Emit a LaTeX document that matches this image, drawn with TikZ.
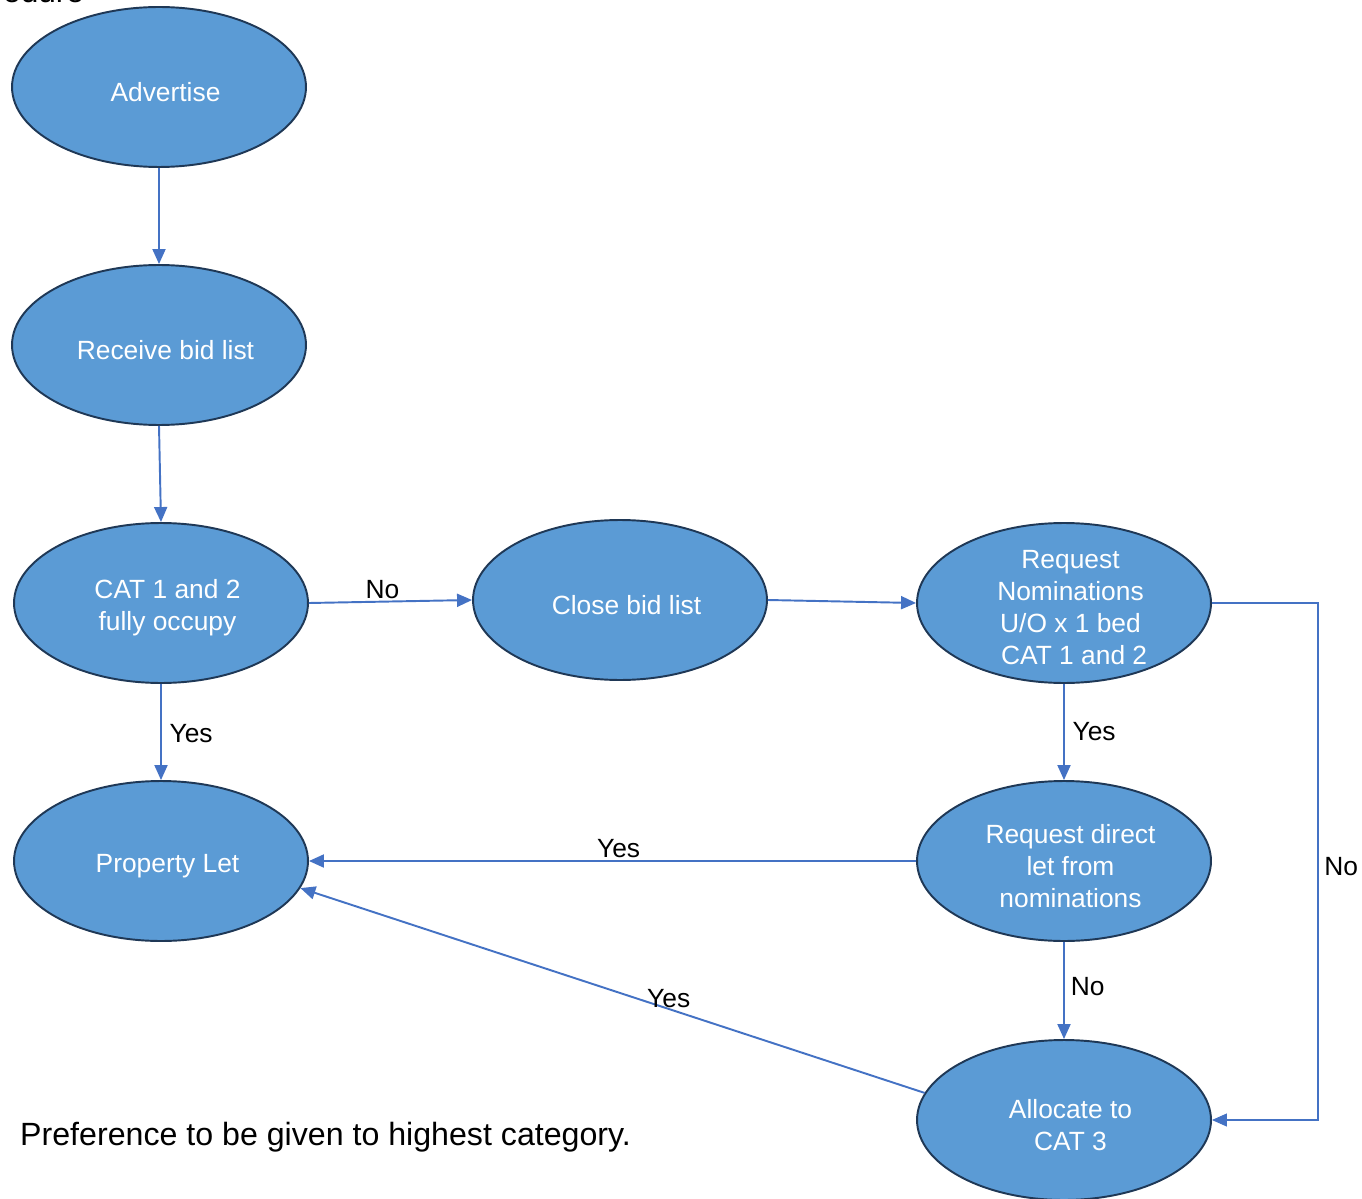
\documentclass[tikz,border=0pt]{standalone}
\usepackage{fontspec}
\setmainfont{Liberation Sans}
\usepackage{tikz}
\usetikzlibrary{arrows.meta,positioning,shapes.geometric}
\definecolor{fillb}{RGB}{91,155,213}
\definecolor{edgeb}{RGB}{31,56,86}
\definecolor{lineb}{RGB}{68,114,196}

\begin{document}
\begin{tikzpicture}[x=0.02cm,y=-0.02cm,
	stagetxt/.style={text=white,align=center,inner sep=0pt,xshift=0.13cm,yshift=-0.1cm,font=\fontsize{15}{18.2}\selectfont},
	stage/.style={ellipse,draw=edgeb,line width=1.1pt,fill=fillb,minimum width=5.88cm,minimum height=3.2cm,inner sep=0pt,label={[stagetxt]center:#1}},
	flow/.style={draw=lineb,line width=1.1pt,-{Triangle[length=0.3cm,width=0.26cm]}},
	lbl/.style={font=\fontsize{15}{18}\selectfont,text=black}]
			\useasboundingbox (0,0) rectangle (1362,1199);
			\node[anchor=base west,font=\fontsize{18}{22}\selectfont] (head) at (-3,3) {edure};
			% column on the left
			\node[stage={Advertise}] (adv) at (159,87) {};
			\node[stage={Receive bid list}] (recv) at (159,345) {};
			\node[stage={CAT 1 and 2\\fully occupy}] (cat) at (161,603) {};
			\node[stage={Property Let}] (let) at (161,861) {};
			% middle and right
			\node[stage={Close bid list}] (close) at (620,600) {};
			\node[stage={Request\\Nominations\\U/O x 1 bed\\\ CAT 1 and 2}] (nom) at (1064,603) {};
			\node[stage={Request direct\\let from\\nominations}] (direct) at (1064,861) {};
			\node[stage={Allocate to\\CAT 3}] (cat3) at (1064,1120) {};
			\coordinate (c1) at (1318,603);
			\coordinate (c2) at (1318,1120);
			% connectors
			\draw[flow] (adv.south) -- (recv.north);
			\draw[flow] (recv.south) -- (cat.north);
			\draw[flow] (cat.east) -- node[lbl,above=-2pt,pos=0.45] {No} (close.west);
			\draw[flow] (close.east) -- (nom.west);
			\draw[flow] (cat.south) -- node[lbl,right=1pt,pos=0.52] {Yes} (let.north);
			\draw[flow] (nom.south) -- node[lbl,right=1pt,pos=0.5] {Yes} (direct.north);
			\draw[flow] (direct.west) -- node[lbl,above=-2pt,pos=0.49] {Yes} (let.east);
			\draw[flow] (direct.south) -- node[lbl,right,pos=0.46] {No} (cat3.north);
			\draw[flow] (cat3.169) -- node[lbl,above=-3pt,pos=0.41] {Yes} (let.-11);
			\draw[flow,line width=0.6pt] (nom.east) -- (c1) -- node[lbl,right,pos=0.51] {No} (c2) -- (cat3.east);
			\node[anchor=west,font=\fontsize{18.3}{22}\selectfont] (note) at (14,1137) {Preference to be given to highest category.};
		\end{tikzpicture}
\end{document}
